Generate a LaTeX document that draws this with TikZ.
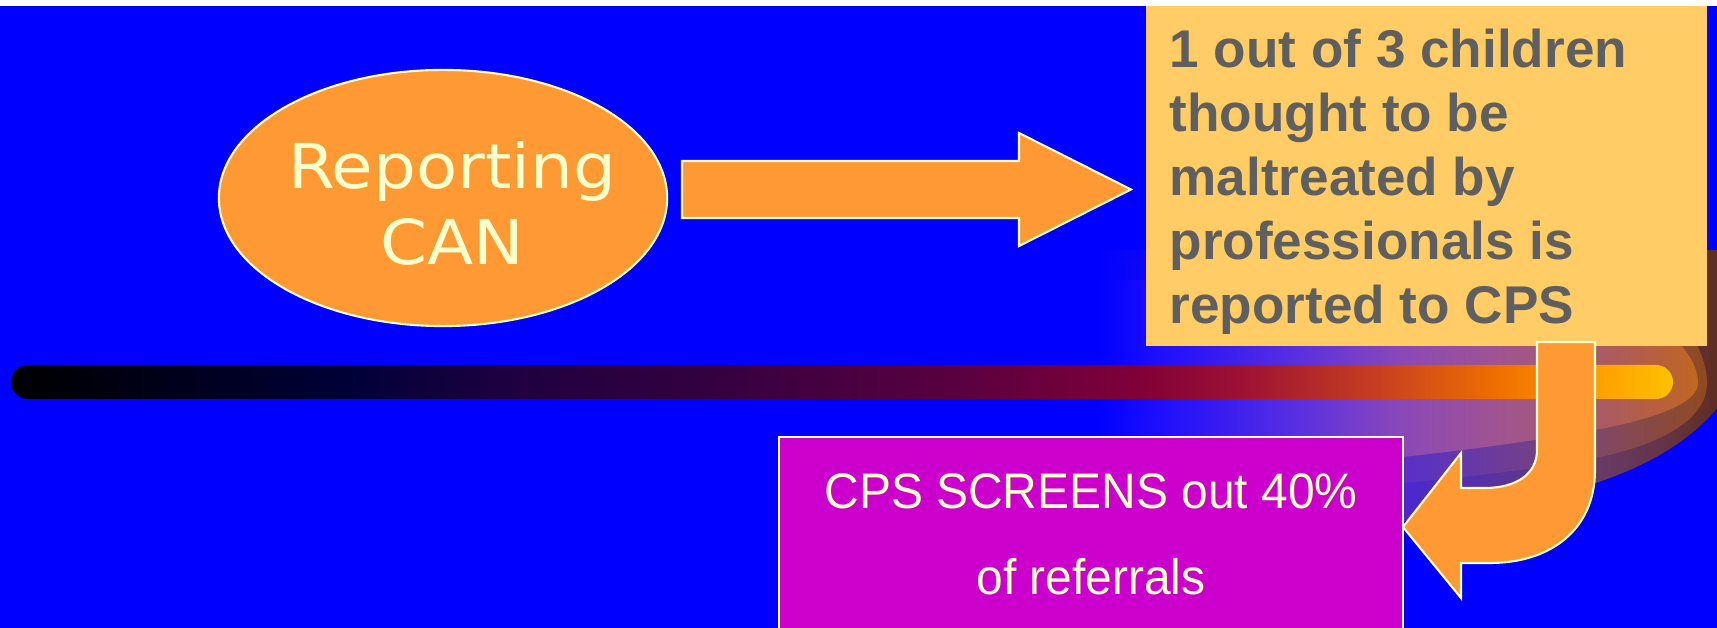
\documentclass[tikz,border=0pt]{standalone}
\usepackage{fontspec}
\setmainfont{Liberation Sans}
\newfontfamily\canfont[FakeStretch=1.09]{DejaVu Sans}
\newfontfamily\screenfont[FakeStretch=0.96]{Liberation Sans}
\usetikzlibrary{shapes.geometric}

\definecolor{slideblue}{RGB}{0,0,255}
\definecolor{canorange}{RGB}{255,153,51}
\definecolor{edgecream}{RGB}{255,255,204}
\definecolor{factyellow}{RGB}{255,204,102}
\definecolor{factgray}{RGB}{95,95,95}
\definecolor{screenmagenta}{RGB}{204,0,204}

\definecolor{barA}{RGB}{0,0,56}
\definecolor{barB}{RGB}{32,0,64}
\definecolor{barC}{RGB}{50,0,64}
\definecolor{barD}{RGB}{90,0,64}
\definecolor{barE}{RGB}{128,0,56}
\definecolor{barF}{RGB}{160,20,52}
\definecolor{barG}{RGB}{200,64,32}
\definecolor{barH}{RGB}{240,112,0}
\definecolor{barI}{RGB}{255,160,0}
\definecolor{barJ}{RGB}{255,192,0}
\pgfdeclarehorizontalshading{barfade}{100bp}{color(0bp)=(black); color(25bp)=(black);
  color(35.2bp)=(barA); color(40.3bp)=(barB); color(45.7bp)=(barC); color(53.5bp)=(barD);
  color(59bp)=(barE); color(62.3bp)=(barF); color(66.2bp)=(barG); color(69.8bp)=(barH);
  color(72.8bp)=(barI); color(75bp)=(barJ); color(100bp)=(barJ)}

\definecolor{glowA}{RGB}{26,12,255}
\definecolor{glowB}{RGB}{90,48,224}
\definecolor{glowC}{RGB}{138,72,184}
\definecolor{glowD}{RGB}{160,84,144}
\definecolor{glowE}{RGB}{168,90,104}
\definecolor{glowF}{RGB}{184,96,60}
\definecolor{glowG}{RGB}{192,104,32}
\pgfdeclarehorizontalshading{glowinner}{100bp}{color(0bp)=(slideblue); color(25bp)=(slideblue);
  color(29.4bp)=(glowA); color(41.9bp)=(glowB); color(50.2bp)=(glowC); color(58.5bp)=(glowD);
  color(66.4bp)=(glowE); color(71.8bp)=(glowF); color(75bp)=(glowG); color(100bp)=(glowG)}

\definecolor{ringA}{RGB}{88,48,200}
\definecolor{ringB}{RGB}{128,72,104}
\definecolor{ringC}{RGB}{144,74,32}
\pgfdeclarehorizontalshading{glowmiddle}{100bp}{color(0bp)=(slideblue); color(25bp)=(slideblue);
  color(50.1bp)=(ringA); color(65.8bp)=(ringB); color(75bp)=(ringC); color(100bp)=(ringC)}

\definecolor{rimA}{RGB}{74,40,208}
\definecolor{rimB}{RGB}{104,60,112}
\definecolor{rimC}{RGB}{100,52,72}
\definecolor{rimD}{RGB}{92,44,24}
\pgfdeclarehorizontalshading{glowouter}{100bp}{color(0bp)=(slideblue); color(25bp)=(slideblue);
  color(49.2bp)=(rimA); color(63.4bp)=(rimB); color(69.5bp)=(rimC); color(75bp)=(rimD); color(100bp)=(rimD)}

\begin{document}
\begin{tikzpicture}[x=0.01cm, y=-0.01cm,
  canoval/.style={ellipse, draw=edgecream, line width=0.6pt, fill=canorange, inner sep=0pt, minimum width=4.48cm, minimum height=2.56cm},
  cantext/.style={text=edgecream, align=center, inner sep=0pt, font=\canfont\fontsize{17.6}{21.6}\selectfont},
  blockarrow/.style={draw=edgecream, line width=0.6pt, fill=canorange, line join=miter},
  factbox/.style={fill=factyellow, inner sep=0pt, minimum width=5.61cm, minimum height=3.40cm},
  facttext/.style={text=factgray, align=left, inner sep=0pt, font=\bfseries\fontsize{15.1}{18.2}\selectfont},
  screenbox/.style={draw=edgecream, line width=0.6pt, fill=screenmagenta, text=edgecream, align=center, inner sep=0pt, minimum width=6.24cm, minimum height=1.94cm, font=\screenfont\fontsize{14.2}{24.5}\selectfont}]
\useasboundingbox (0,0) rectangle (1717,628);
\fill[white] (0,0) rectangle (1717,628);
\fill[slideblue] (0,6) rectangle (1717,628);

\shade[shading=glowouter] (1097,250) -- (1730,250) -- (1730,390) .. controls (1700,440) and (1640,470) .. (1583,487) .. controls (1500,510) and (1400,525) .. (1300,530) -- (1097,530) -- cycle;
\shade[shading=glowmiddle] (1097,260) -- (1600,260) .. controls (1680,300) and (1707,350) .. (1707,383) .. controls (1707,420) and (1660,445) .. (1595,458) .. controls (1500,475) and (1400,485) .. (1300,490) -- (1097,490) -- cycle;
\shade[shading=glowinner] (1097,280) -- (1550,280) .. controls (1640,300) and (1698,345) .. (1698,383) .. controls (1698,402) and (1660,418) .. (1595,430) .. controls (1530,442) and (1450,452) .. (1402,457) .. controls (1300,467) and (1200,470) .. (1097,470) -- cycle;
\shade[shading=barfade, rounded corners=0.17cm] (11,365) rectangle (1673,399);

\node[canoval] (report) at (443,198) {};
\node[cantext] (reporttext) at (452,203.5) {Reporting\\CAN};
\draw[blockarrow] (682,161) -- (1019,161) -- (1019,133) -- (1131,189.5) -- (1019,246) -- (1019,218) -- (682,218) -- cycle;

\node[factbox] (fact) at (1426.5,176) {};
\node[facttext, anchor=north west] (facttext) at (1169,28.5) {1 out of 3 children\\thought to be\\maltreated by\\professionals is\\reported to CPS};

\node[screenbox] (screen) at (1091,534) {CPS SCREENS out 40\%\\of referrals};

\draw[blockarrow] (1537,342) -- (1537,450) .. controls (1537,475) and (1515,488) .. (1485,488) -- (1461,488) -- (1461,453) -- (1403,527) -- (1461,598) -- (1461,563) -- (1490,563) .. controls (1550,563) and (1595,530) .. (1595,470) -- (1595,342) -- cycle;
\end{tikzpicture}
\end{document}
